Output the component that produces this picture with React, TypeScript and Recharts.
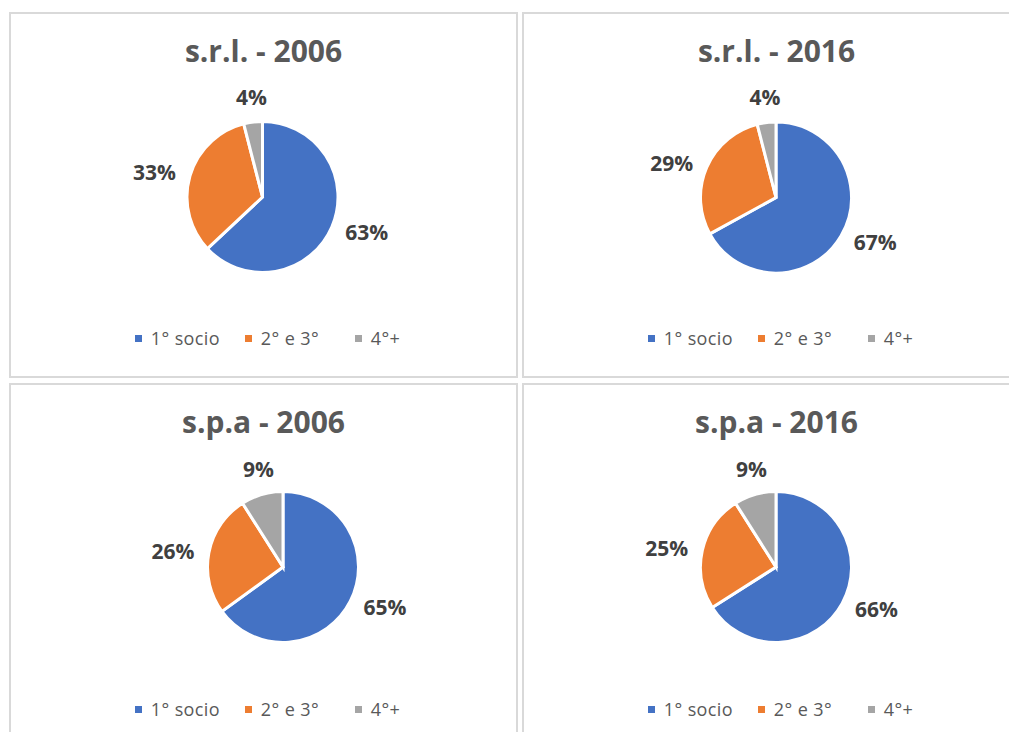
import React from 'react';
import { PieChart, Pie, Cell, Legend } from 'recharts';

const categories = ['1° socio', '2° e 3°', '4°+'];
const srl2006 = [63, 33, 4];
const srl2016 = [67, 29, 4];
const spa2006 = [65, 26, 9];
const spa2016 = [66, 25, 9];
const titles = ['s.r.l. - 2006', 's.r.l. - 2016', 's.p.a - 2006', 's.p.a - 2016'];
const colors = ['#4472C4', '#ED7D31', '#A5A5A5'];

const FONT = '"Open Sans", "Liberation Sans", sans-serif';
const RADIAN = Math.PI / 180;

const renderLabel = (props: any) => {
  const { cx, cy, midAngle, percent } = props;
  const r = 74 + 14;
  const dx = Math.cos(-midAngle * RADIAN);
  const dy = Math.sin(-midAngle * RADIAN);
  const px = cx + r * dx;
  const py = cy + r * dy;
  const txt = `${Math.round(percent * 100)}%`;
  let anchor: 'start' | 'end' | 'middle' = 'middle';
  let x = px;
  let y = py;
  let baseline: any = 'central';
  if (dx > 0.35) {
    anchor = 'start';
    x = px + 2;
  } else if (dx < -0.35) {
    anchor = 'end';
    x = px - 2;
  } else {
    anchor = 'middle';
    if (dy < 0) {
      y = py - 5;
      baseline = 'auto';
    } else {
      y = py + 5;
      baseline = 'hanging';
    }
  }
  return (
    <text
      x={x}
      y={y}
      textAnchor={anchor}
      dominantBaseline={baseline}
      fill="#404040"
      fontFamily={FONT}
      fontWeight={700}
      fontSize={21}
    >
      {txt}
    </text>
  );
};

const LegendContent = (props: any) => {
  const { payload } = props;
  return (
    <div
      style={{
        display: 'flex',
        justifyContent: 'center',
        alignItems: 'center',
        paddingLeft: 8,
        fontFamily: FONT,
        fontSize: 18,
        color: '#595959',
        letterSpacing: 0.4,
      }}
    >
      {(payload || []).map((p: any, i: number) => (
        <div
          key={i}
          style={{
            display: 'flex',
            alignItems: 'center',
            width: i < 2 ? 110 : 'auto',
          }}
        >
          <span
            style={{
              display: 'inline-block',
              width: 7,
              height: 7,
              background: p.color,
              marginRight: 9,
            }}
          />
          <span>{p.value}</span>
        </div>
      ))}
    </div>
  );
};

const panels = [
  { values: srl2006, title: titles[0], left: 9, top: 12, cx: 251.5, cy: 183 },
  { values: srl2016, title: titles[1], left: 522, top: 12, cx: 252, cy: 183.5 },
  { values: spa2006, title: titles[2], left: 9, top: 383, cx: 272, cy: 182 },
  { values: spa2016, title: titles[3], left: 522, top: 383, cx: 252, cy: 182 },
];

const PANEL_W = 509;
const PANEL_H = 366;

function Panel({ values, title, left, top, cx, cy, height }: any) {
  const data = categories.map((name, i) => ({ name, value: values[i] }));
  const innerW = PANEL_W - 4;
  const innerH = height - 4;
  return (
    <div
      style={{
        position: 'absolute',
        left,
        top,
        width: PANEL_W,
        height,
        border: '2px solid #d9d9d9',
        boxSizing: 'border-box',
        background: '#fff',
      }}
    >
      <div
        style={{
          position: 'absolute',
          left: 0,
          top: 17,
          width: innerW,
          textAlign: 'center',
          fontFamily: FONT,
          fontWeight: 700,
          fontSize: 30,
          lineHeight: '40px',
          color: '#595959',
        }}
      >
        {title}
      </div>
      <PieChart
        width={innerW}
        height={innerH}
        margin={{ top: 0, right: 0, bottom: 0, left: 0 }}
        style={{ position: 'absolute', left: 0, top: 0 }}
      >
        <Pie
          data={data}
          dataKey="value"
          nameKey="name"
          cx={cx}
          cy={cy}
          outerRadius={75.5}
          startAngle={90}
          endAngle={-270}
          stroke="#ffffff"
          strokeWidth={3}
          label={renderLabel}
          labelLine={false}
          isAnimationActive={false}
        >
          {data.map((d, i) => (
            <Cell key={d.name} fill={colors[i]} />
          ))}
        </Pie>
        <Legend
          content={<LegendContent />}
          wrapperStyle={{ position: 'absolute', top: 312, left: 0, width: innerW, height: 26 }}
        />
      </PieChart>
    </div>
  );
}

export default function App() {
  return (
    <div
      style={{
        position: 'relative',
        width: 1017,
        height: 740,
        margin: -8,
        overflow: 'hidden',
        background: '#fff',
      }}
    >
      {panels.map((p, i) => (
        <Panel key={i} {...p} height={i < 2 ? PANEL_H : 400} />
      ))}
    </div>
  );
}
